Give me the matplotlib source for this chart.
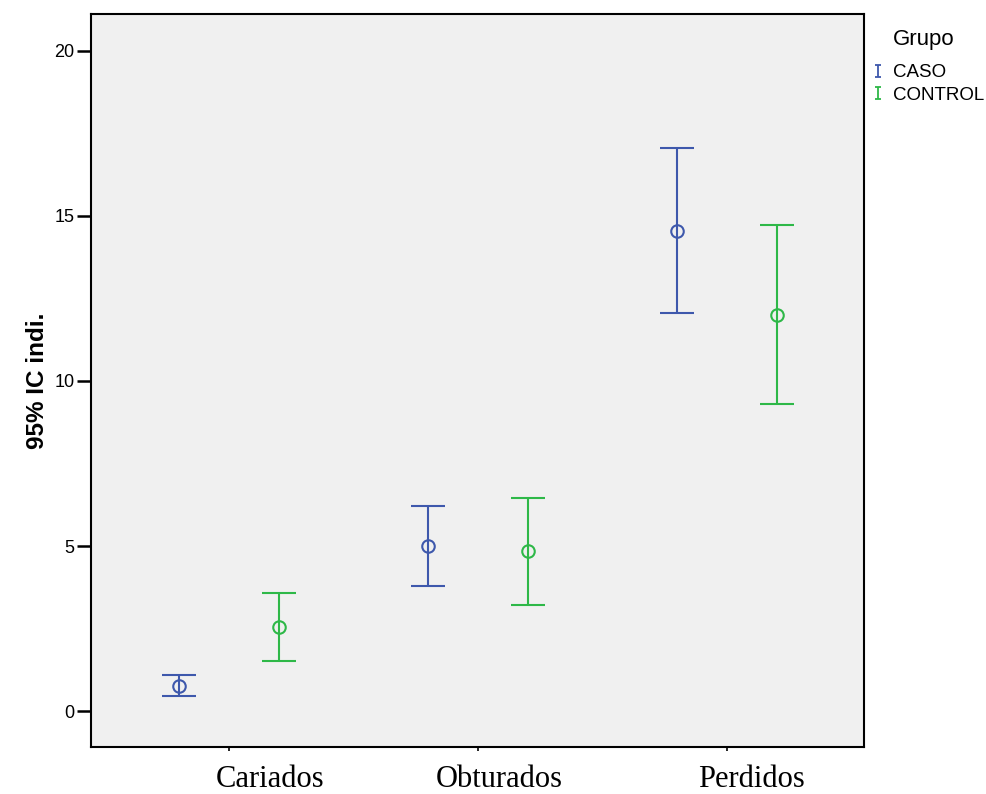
import matplotlib
matplotlib.use("Agg")
import matplotlib.pyplot as plt
import matplotlib.transforms as mtransforms
from matplotlib.lines import Line2D
from matplotlib.path import Path
import numpy as np

categories = ["Cariados", "Obturados", "Perdidos"]
groups = ["CASO", "CONTROL"]
means = {"CASO": [0.77, 5.00, 14.55], "CONTROL": [2.55, 4.84, 12.00]}
lower = {"CASO": [0.46, 3.80, 12.05], "CONTROL": [1.52, 3.22, 9.30]}
upper = {"CASO": [1.08, 6.22, 17.05], "CONTROL": [3.58, 6.45, 14.72]}
colors = {"CASO": "#3E58AC", "CONTROL": "#2EB848"}
offsets = {"CASO": -0.2, "CONTROL": 0.2}

fig = plt.figure(figsize=(9.86, 7.94), dpi=100)
ax = fig.add_axes([91/986, 1-747/794, (864-91)/986, (747-14)/794])
ax.set_facecolor("#F0F0F0")

x = np.arange(len(categories))
for g in groups:
    m = np.array(means[g]); lo = np.array(lower[g]); hi = np.array(upper[g])
    ax.errorbar(x + offsets[g], m, yerr=[m - lo, hi - m], fmt="o", color=colors[g],
                mfc="none", mec=colors[g], ms=9, mew=1.5, elinewidth=1.5,
                capsize=12.5, capthick=1.5, zorder=3)

ax.set_xlim(-0.554, 2.55)
ax.set_ylim(-1.09, 21.12)
ax.set_yticks([0, 5, 10, 15, 20])
ax.set_yticklabels(["0", "5", "10", "15", "20"], fontsize=13, family="Liberation Sans")
ax.set_xticks(x)
ax.set_xticklabels(categories, fontsize=22, family="Liberation Serif")
ax.tick_params(axis="y", length=10, width=1.8, pad=2)
ax.tick_params(axis="x", length=3, width=1.2, pad=10)
# the category labels sit slightly right of their ticks in the reference
label_shift_px = [41, 21, 24]
for lbl, dx in zip(ax.get_xticklabels(), label_shift_px):
    lbl.set_transform(lbl.get_transform() +
                      mtransforms.ScaledTranslation(dx / 100, 0, fig.dpi_scale_trans))
for s in ax.spines.values():
    s.set_linewidth(1.5)
ax.set_ylabel("95% IC indi.", fontsize=17.5, fontweight="bold", family="Liberation Sans", labelpad=4)

# I-shaped marker for the legend (error bar symbol)
ipath = Path([(-0.5, 1), (0.5, 1), (0, 1), (0, -1), (-0.5, -1), (0.5, -1)],
             [Path.MOVETO, Path.LINETO, Path.MOVETO, Path.LINETO, Path.MOVETO, Path.LINETO])
handles = [Line2D([], [], linestyle="none", marker=ipath, color=colors[g], mfc="none",
                  mec=colors[g], markersize=8.5, mew=1.3)
           for g in groups]
leg = fig.legend(handles, groups, loc="upper left", bbox_to_anchor=(871/986, 1-64/794),
                 frameon=False, handlelength=0.7, handletextpad=0.45,
                 labelspacing=0.3, borderaxespad=0, borderpad=0,
                 prop={"family": "Liberation Sans", "size": 13.5})
fig.text(893/986, 1-39/794, "Grupo", fontsize=16, family="Liberation Sans",
         ha="left", va="center")

fig.savefig("out.png", dpi=100)
